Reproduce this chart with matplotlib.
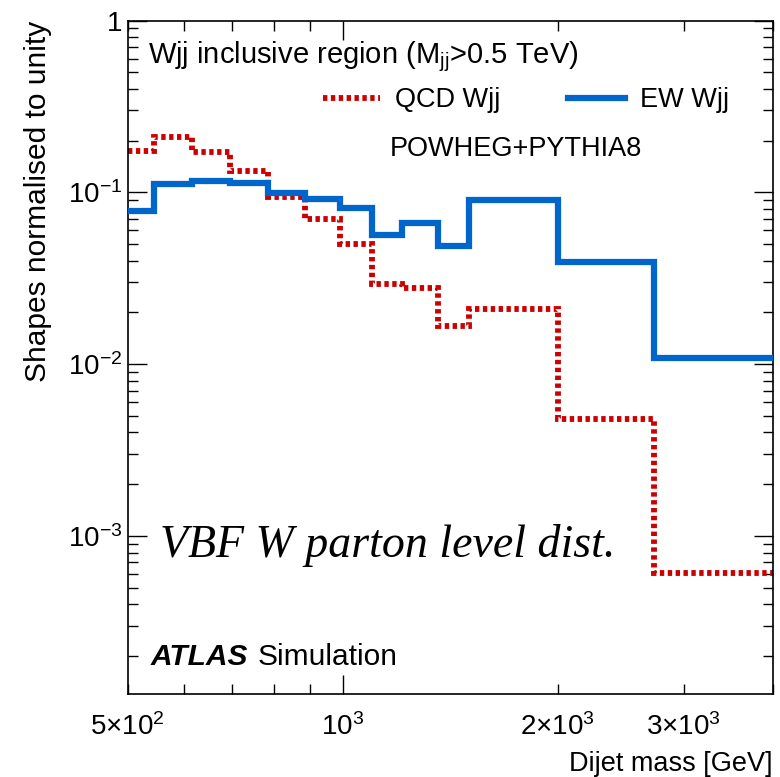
import math
import matplotlib
matplotlib.use('Agg')
import matplotlib.pyplot as plt
from matplotlib.ticker import FixedLocator, FuncFormatter, NullFormatter

# Bin edges in dijet mass [GeV] and normalised shapes
mjj_edges = [500, 545, 615, 695, 785, 885, 990, 1100, 1210, 1360, 1500, 2000, 2730, 4000]
qcd_wjj = [0.175, 0.211, 0.171, 0.134, 0.0935, 0.0702, 0.050, 0.0291, 0.0279,
           0.0166, 0.0208, 0.00477, 0.000604]
ew_wjj = [0.0778, 0.1117, 0.116, 0.1127, 0.0987, 0.091, 0.0807, 0.0562, 0.0667,
          0.0489, 0.0902, 0.0394, 0.0108]

x_major = [1000]
x_minor = [500, 600, 700, 800, 900, 2000, 3000, 4000]
x_minor_labels = {500: '5$\\times$10$^{2}$', 2000: '2$\\times$10$^{3}$', 3000: '3$\\times$10$^{3}$'}

plt.rcParams['font.family'] = ['Liberation Sans', 'DejaVu Sans']
plt.rcParams['mathtext.fontset'] = 'custom'
plt.rcParams['mathtext.rm'] = 'Liberation Sans'
plt.rcParams['mathtext.it'] = 'Liberation Sans:italic'
plt.rcParams['mathtext.bf'] = 'Liberation Sans:bold'

red = '#cc0000'
blue = '#0066cc'

fig = plt.figure(figsize=(7.8, 7.77), dpi=100)
ax = fig.add_axes([0.1637, 0.1068, 0.8273, 0.8667])

ax.stairs(qcd_wjj, mjj_edges, color=red, lw=4.2, linestyle=(0, (0.75, 0.6)),
          baseline=None, label='QCD Wjj', zorder=2)
ax.stairs(ew_wjj, mjj_edges, color=blue, lw=4.5, baseline=None,
          label='EW Wjj', zorder=3)

ax.set_xscale('log')
ax.set_yscale('log')
ax.set_xlim(500, 4000)
ax.set_ylim(1.2e-4, 1)

ax.xaxis.set_major_locator(FixedLocator(x_major))
ax.xaxis.set_minor_locator(FixedLocator(x_minor))
ax.xaxis.set_major_formatter(FuncFormatter(lambda v, p: '10$^{3}$'))
ax.xaxis.set_minor_formatter(FuncFormatter(lambda v, p: x_minor_labels.get(int(round(v)), '')))

ax.yaxis.set_major_locator(FixedLocator([1e-4, 1e-3, 1e-2, 1e-1, 1]))
ax.yaxis.set_minor_locator(FixedLocator([m * 10.0 ** e for e in range(-4, 0) for m in range(2, 10)]))
ax.yaxis.set_major_formatter(FuncFormatter(
    lambda v, p: '1' if v >= 1 else '10$^{%d}$' % round(math.log10(v))))
ax.yaxis.set_minor_formatter(NullFormatter())

ax.tick_params(which='both', direction='in', top=True, right=True, width=1.0,
               labelsize=20)
ax.tick_params(which='major', length=14)
ax.tick_params(which='minor', length=7)
ax.tick_params(axis='x', which='both', pad=14)
ax.tick_params(axis='y', which='both', pad=3.5)
for s in ax.spines.values():
    s.set_linewidth(1.2)

ax.set_ylabel('Shapes normalised to unity', fontsize=21.5, loc='top', labelpad=12)
ax.set_xlabel('Dijet mass [GeV]', fontsize=19.5, loc='right', labelpad=7)

ax.text(0.031, 0.936, 'Wjj inclusive region (M$_{\\mathrm{jj}}$>0.5 TeV)',
        transform=ax.transAxes, fontsize=21, va='baseline', ha='left')
ax.legend(loc='center left', bbox_to_anchor=(0.3027, 0.882), ncol=2, frameon=False,
          fontsize=19.5, handlelength=2.1, columnspacing=2.5, handletextpad=0.55,
          borderpad=0, borderaxespad=0)
ax.text(0.4065, 0.81, 'POWHEG+PYTHIA8', transform=ax.transAxes, fontsize=19.5,
        va='center', ha='left')
ax.text(0.05, 0.22, 'VBF W parton level dist.', transform=ax.transAxes,
        fontsize=33, family='Liberation Serif', style='italic', va='center', ha='left')
ax.text(0.035, 0.055, 'ATLAS', transform=ax.transAxes, fontsize=21.5,
        weight='bold', style='italic', va='center', ha='left')
ax.text(0.202, 0.055, 'Simulation', transform=ax.transAxes, fontsize=21.5,
        va='center', ha='left')

fig.savefig('out.png', dpi=100)
